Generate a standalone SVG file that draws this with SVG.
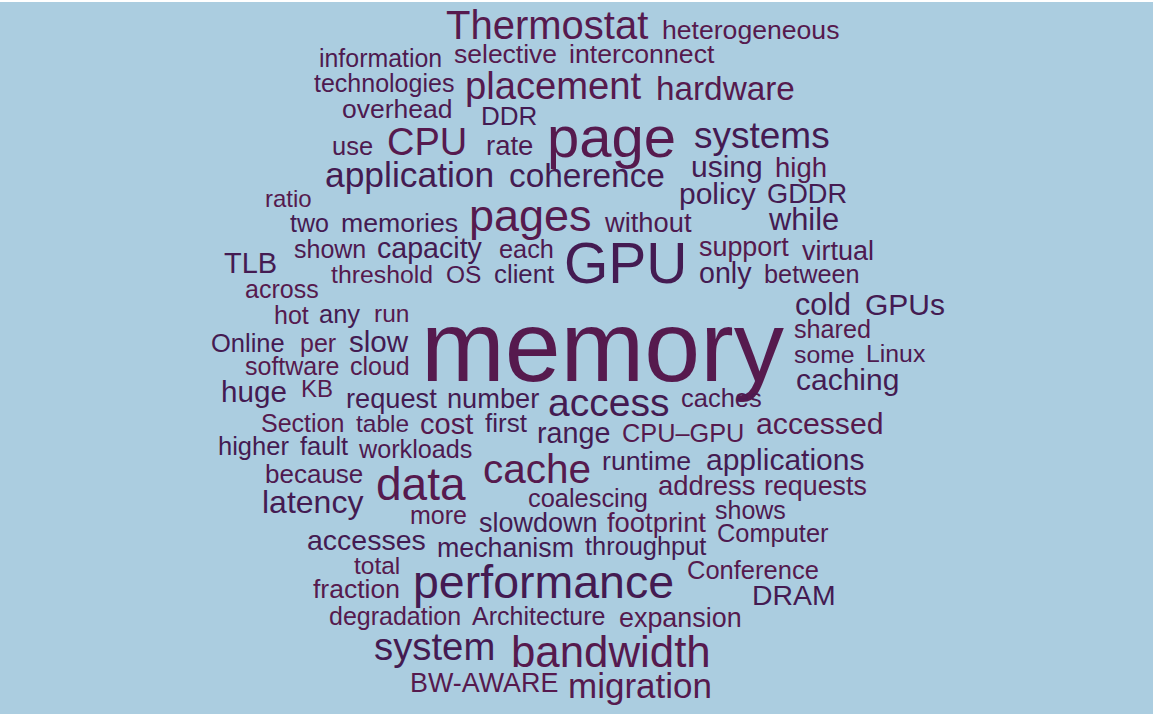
<svg xmlns="http://www.w3.org/2000/svg" width="1154" height="714" viewBox="0 0 1154 714">
  <style>
    text { font-family: "Liberation Sans", Arial, sans-serif; }
    .m { fill: #561a4e; }
    .i { fill: #441b52; }
    .p { fill: #4e1a50; }
  </style>
  <rect x="0" y="0" width="1154" height="714" fill="#ffffff"/>
  <rect x="0" y="2" width="1153" height="712" fill="#abcde0"/>

  <!-- word cloud terms, sized by frequency -->
  <g id="words">
    <text class="m" x="446" y="39" font-size="40">Thermostat</text>
    <text class="m" x="662" y="39" font-size="26.6">heterogeneous</text>
    <text class="p" x="319" y="67" font-size="24.9">information</text>
    <text class="m" x="454" y="63" font-size="26.5">selective</text>
    <text class="m" x="569" y="63" font-size="26.7">interconnect</text>
    <text class="p" x="314" y="92" font-size="25">technologies</text>
    <text class="m" x="465" y="99" font-size="38.2">placement</text>
    <text class="m" x="656" y="100" font-size="33.3">hardware</text>
    <text class="p" x="342" y="118" font-size="26.5">overhead</text>
    <text class="i" x="481" y="125" font-size="26">DDR</text>
    <text class="m" x="547" y="157" font-size="58">page</text>
    <text class="i" x="694" y="148" font-size="37">systems</text>
    <text class="p" x="332" y="155" font-size="25.5">use</text>
    <text class="m" x="387" y="155" font-size="38">CPU</text>
    <text class="p" x="486" y="155" font-size="27.5">rate</text>
    <text class="i" x="325" y="187" font-size="35.4">application</text>
    <text class="i" x="509" y="187" font-size="33.4">coherence</text>
    <text class="i" x="691" y="177" font-size="30">using</text>
    <text class="m" x="775" y="177" font-size="27.5">high</text>
    <text class="m" x="265" y="207" font-size="24">ratio</text>
    <text class="i" x="679" y="204" font-size="30">policy</text>
    <text class="i" x="767" y="203" font-size="27.2">GDDR</text>
    <text class="i" x="290" y="232" font-size="25">two</text>
    <text class="i" x="341" y="232" font-size="26.7">memories</text>
    <text class="m" x="469" y="231" font-size="45">pages</text>
    <text class="p" x="605" y="232" font-size="27.3">without</text>
    <text class="i" x="769" y="230" font-size="30.8">while</text>

    <text class="i" x="224" y="273" font-size="29">TLB</text>
    <text class="p" x="294" y="258" font-size="25">shown</text>
    <text class="i" x="377" y="258" font-size="28.6">capacity</text>
    <text class="p" x="499" y="258" font-size="25.3">each</text>
    <text class="i" x="564" y="283" font-size="57">GPU</text>
    <text class="m" x="699" y="256" font-size="26.9">support</text>
    <text class="p" x="802" y="260" font-size="27">virtual</text>
    <text class="m" x="331" y="283" font-size="24.8">threshold</text>
    <text class="p" x="446" y="283" font-size="24.5">OS</text>
    <text class="i" x="494" y="283" font-size="25.8">client</text>
    <text class="i" x="699" y="283" font-size="28.6">only</text>
    <text class="p" x="764" y="283" font-size="25.3">between</text>
    <text class="m" x="245" y="298" font-size="25">across</text>

    <text class="m" x="274" y="324" font-size="25">hot</text>
    <text class="i" x="319" y="323" font-size="25.5">any</text>
    <text class="m" x="374" y="322" font-size="24.5">run</text>
    <text class="i" x="795" y="315" font-size="30.5">cold</text>
    <text class="i" x="865" y="315" font-size="30">GPUs</text>
    <text class="m" x="794" y="338" font-size="25.2">shared</text>
    <text class="i" x="211" y="352" font-size="25.5">Online</text>
    <text class="m" x="300" y="352" font-size="25">per</text>
    <text class="i" x="349" y="352" font-size="29.6">slow</text>
    <text class="m" x="421" y="381" font-size="100.5">memory</text>
    <text class="p" x="794" y="363" font-size="24.8">some</text>
    <text class="p" x="866" y="362" font-size="24.8">Linux</text>
    <text class="m" x="245" y="375" font-size="25">software</text>
    <text class="m" x="350" y="375" font-size="25">cloud</text>
    <text class="i" x="796" y="390" font-size="30">caching</text>

    <text class="i" x="221" y="402" font-size="29.6">huge</text>
    <text class="m" x="301" y="397" font-size="24">KB</text>
    <text class="i" x="346" y="408" font-size="27.2">request</text>
    <text class="i" x="447" y="408" font-size="27.2">number</text>
    <text class="i" x="548" y="416" font-size="39">access</text>
    <text class="p" x="681" y="407" font-size="25.5">caches</text>
    <text class="m" x="261" y="432" font-size="25">Section</text>
    <text class="p" x="356" y="432" font-size="24.5">table</text>
    <text class="m" x="420" y="434" font-size="29">cost</text>
    <text class="i" x="485" y="432" font-size="26">first</text>
    <text class="i" x="537" y="443" font-size="28.7">range</text>
    <text class="m" x="622" y="442" font-size="25.3">CPU–GPU</text>
    <text class="m" x="756" y="434" font-size="30.2">accessed</text>
    <text class="i" x="218" y="455" font-size="25.5">higher</text>
    <text class="i" x="300" y="455" font-size="25.5">fault</text>
    <text class="p" x="359" y="458" font-size="25.2">workloads</text>

    <text class="i" x="602" y="470" font-size="26.7">runtime</text>
    <text class="i" x="706" y="470" font-size="30">applications</text>
    <text class="m" x="483" y="483" font-size="40.5">cache</text>
    <text class="p" x="265" y="483" font-size="26">because</text>
    <text class="m" x="376" y="500" font-size="46">data</text>
    <text class="i" x="262" y="513" font-size="32">latency</text>
    <text class="m" x="658" y="495" font-size="27.4">address</text>
    <text class="m" x="764" y="495" font-size="26.8">requests</text>
    <text class="p" x="528" y="507" font-size="25.4">coalescing</text>
    <text class="m" x="410" y="524" font-size="25">more</text>
    <text class="i" x="479" y="532" font-size="27">slowdown</text>
    <text class="m" x="607" y="532" font-size="27.4">footprint</text>
    <text class="p" x="715" y="519" font-size="25">shows</text>
    <text class="p" x="717" y="542" font-size="25.4">Computer</text>

    <text class="i" x="307" y="550" font-size="28.5">accesses</text>
    <text class="i" x="437" y="557" font-size="26.8">mechanism</text>
    <text class="i" x="585" y="555" font-size="25.4">throughput</text>
    <text class="m" x="354" y="574" font-size="24.5">total</text>
    <text class="m" x="687" y="579" font-size="25.5">Conference</text>
    <text class="m" x="313" y="598" font-size="26.5">fraction</text>
    <text class="i" x="413" y="598" font-size="46.5">performance</text>
    <text class="i" x="752" y="605" font-size="28.4">DRAM</text>
    <text class="m" x="329" y="625" font-size="25">degradation</text>
    <text class="p" x="472" y="625" font-size="25">Architecture</text>
    <text class="m" x="619" y="627" font-size="26.9">expansion</text>

    <text class="i" x="374" y="660" font-size="38.3">system</text>
    <text class="m" x="511" y="667" font-size="43.8">bandwidth</text>
    <text class="m" x="410" y="692" font-size="26.9">BW-AWARE</text>
    <text class="m" x="568" y="698" font-size="35">migration</text>
  </g>
</svg>
